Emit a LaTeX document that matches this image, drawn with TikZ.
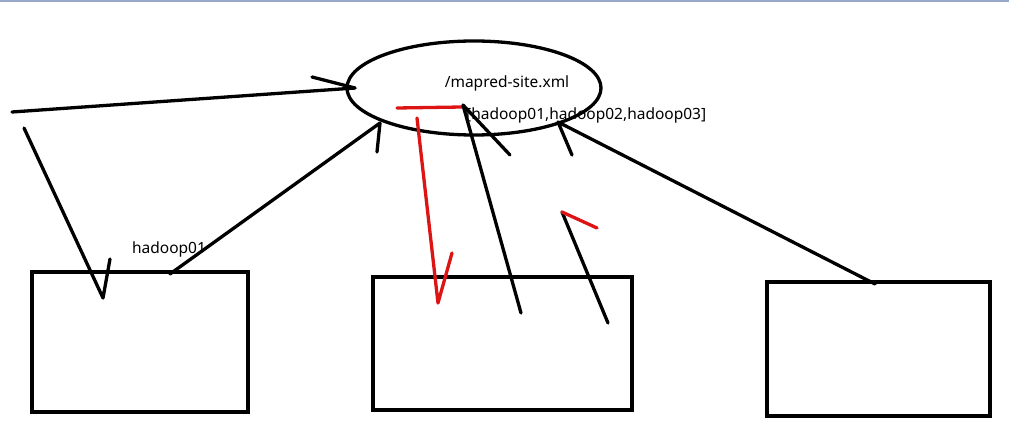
\documentclass[tikz,border=0pt]{standalone}
\usepackage{fontspec}
\setmainfont{Noto Sans}
\usetikzlibrary{shapes.geometric}
\begin{document}
\begin{tikzpicture}[x=1pt,y=-1pt,
  stroke/.style={line width=3.3pt,line cap=round,line join=round,black},
  redstroke/.style={stroke,draw={rgb,255:red,220;green,20;blue,20}},
  lbl/.style={inner sep=0pt,font=\fontsize{15.5}{18}\selectfont}]
\useasboundingbox (0,0) rectangle (1009,430);
\fill[white] (0,0) rectangle (1009,430);
\draw[line width=1.5pt,draw={rgb,255:red,150;green,170;blue,200}] (0,1) -- (1009,1);
% ellipse
\draw[stroke] (474,88) ellipse [x radius=127,y radius=47];
\node[lbl] (t1) at (507,83) {/mapred-site.xml};
\node[lbl,anchor=west] (t2) at (466,115) {[hadoop01,hadoop02,hadoop03]};
\node[lbl] (t3) at (169,249) {hadoop01};
% boxes
\draw[stroke,line cap=butt,line join=miter] (32,272) rectangle (248,412);
\draw[stroke,line cap=butt,line join=miter] (373,277) rectangle (632,410);
\draw[stroke,line cap=butt,line join=miter] (767,282) rectangle (990,416);
% left strokes
\draw[stroke] (12,112) -- (355,88);
\draw[stroke] (312,77) -- (355,88);
\draw[stroke] (24,128) -- (103,298) -- (110,259);
\draw[stroke] (170,274) -- (380,123) -- (377,152);
% red strokes
\draw[redstroke] (397,108) -- (462,107);
\draw[redstroke] (417,118) -- (438,303) -- (452,253);
% middle strokes
\draw[stroke] (521,313) -- (463,105) -- (510,155);
\draw[stroke] (875,284) -- (558,122) -- (572,155);
\draw[stroke] (608,323) -- (562,212);
\draw[redstroke] (562,212) -- (597,228);
\end{tikzpicture}
\end{document}
